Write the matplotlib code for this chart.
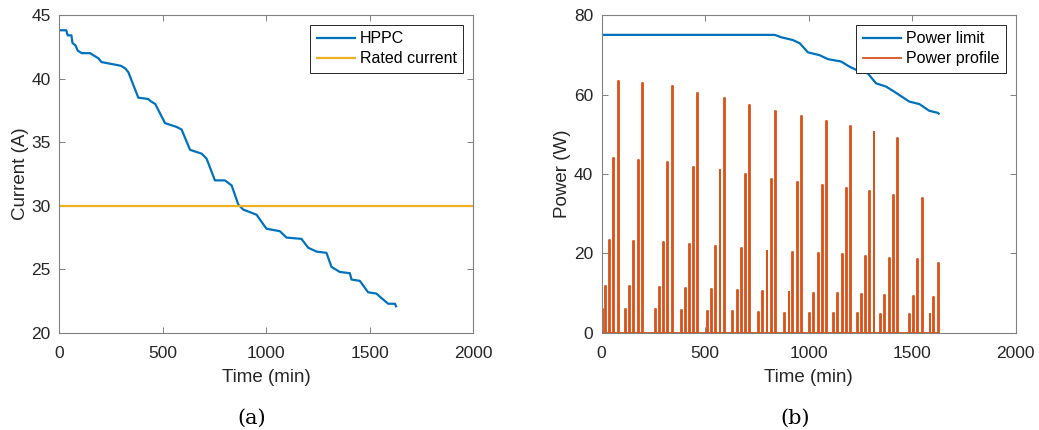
import numpy as np
import matplotlib.pyplot as plt

plt.rcParams['font.family'] = ['Liberation Sans', 'DejaVu Sans']

# (a) HPPC current limit vs time
hppc_t = [0, 35, 42, 60, 65, 80, 90, 110, 150, 170, 190, 205, 270, 300, 320, 335,
          383, 430, 445, 465, 512, 568, 592, 633, 689, 713, 753, 801, 834, 866,
          890, 954, 1002, 1067, 1099, 1171, 1204, 1244, 1292, 1316, 1356, 1405,
          1413, 1453, 1493, 1533, 1550, 1590, 1623, 1628]
hppc_i = [43.8, 43.8, 43.4, 43.4, 42.8, 42.6, 42.2, 42.0, 42.0, 41.8, 41.6, 41.3,
          41.1, 41.0, 40.8, 40.5, 38.5, 38.4, 38.2, 38.0, 36.5, 36.2, 36.0, 34.4,
          34.1, 33.7, 32.0, 32.0, 31.6, 30.1, 29.7, 29.3, 28.2, 28.0, 27.5, 27.4,
          26.7, 26.4, 26.3, 25.2, 24.8, 24.7, 24.2, 24.1, 23.2, 23.1, 22.85, 22.3,
          22.3, 22.1]
rated_current = 30

# (b) power limit and power profile
plim_t = [0, 836, 868, 924, 957, 997, 1053, 1093, 1157, 1198, 1238, 1286, 1326,
          1374, 1414, 1487, 1535, 1583, 1623, 1628]
plim_p = [75, 75, 74.4, 73.7, 72.9, 70.6, 69.9, 68.9, 68.3, 67.0, 66.0, 65.3, 62.8,
          62.0, 60.7, 58.2, 57.6, 55.9, 55.4, 55.2]

spike_t = [1, 17, 38, 57, 78,
           114, 134, 154, 175, 194,
           258, 278, 299, 318, 339,
           383, 403, 423, 443, 463,
           510, 529, 550, 570, 591,
           632, 653, 673, 693, 713,
           757, 776, 797, 817, 838,
           882, 903, 922, 944, 963,
           1002, 1023, 1044, 1064, 1085,
           1117, 1139, 1161, 1180, 1201,
           1233, 1254, 1273, 1294, 1314,
           1347, 1366, 1389, 1410, 1429,
           1484, 1506, 1525, 1547,
           1584, 1603, 1625]
spike_p = [6.0, 11.8, 23.4, 43.9, 63.4,
           6.0, 11.7, 23.1, 43.5, 62.8,
           6.0, 11.6, 22.9, 43.1, 62.2,
           5.8, 11.2, 22.3, 41.8, 60.5,
           5.6, 11.0, 21.9, 41.0, 59.2,
           5.5, 10.8, 21.3, 39.9, 57.4,
           5.3, 10.6, 20.7, 38.8, 55.8,
           5.1, 10.3, 20.4, 38.1, 54.7,
           5.1, 10.1, 20.0, 37.2, 53.4,
           5.1, 10.0, 19.8, 36.6, 52.1,
           5.0, 9.8, 19.4, 35.7, 50.6,
           4.9, 9.6, 18.9, 34.7, 49.0,
           4.8, 9.4, 18.6, 34.0,
           4.7, 9.1, 17.7]
profile_end = 1628

# build the pulse signal (zero between pulses)
pw = 4
prof_t = [0]
prof_p = [0]
for t, p in zip(spike_t, spike_p):
    prof_t += [t, t, t + pw, t + pw]
    prof_p += [0, p, p, 0]
prof_t.append(profile_end)
prof_p.append(0)

blue = '#0072BD'
orange = '#D95319'
yellow = '#EDB120'
txtcol = '#262626'
axcol = '#808080'

fig = plt.figure(figsize=(10.39, 4.30), dpi=100)
ax1 = fig.add_axes([0.0568, 0.2256, 0.3985, 0.7395])
ax2 = fig.add_axes([0.579, 0.2256, 0.3985, 0.7395])

ax1.plot(hppc_t, hppc_i, color=blue, lw=1.6, label='HPPC')
ax1.axhline(rated_current, color=yellow, lw=1.6, label='Rated current')
ax1.set_xlim(0, 2000)
ax1.set_ylim(20, 45)
ax1.set_yticks([20, 25, 30, 35, 40, 45])
ax1.set_xlabel('Time (min)', fontsize=13.5, labelpad=5.5)
ax1.set_ylabel('Current (A)', fontsize=13.5, labelpad=2)

ax2.plot(plim_t, plim_p, color=blue, lw=1.6, label='Power limit')
ax2.plot(prof_t, prof_p, color=orange, lw=1.3, label='Power profile')
ax2.set_xlim(0, 2000)
ax2.set_ylim(0, 80)
ax2.set_yticks([0, 20, 40, 60, 80])
ax2.set_xlabel('Time (min)', fontsize=13.5, labelpad=5.5)
ax2.set_ylabel('Power (W)', fontsize=13.5, labelpad=2)

for ax in (ax1, ax2):
    ax.set_xticks([0, 500, 1000, 1500, 2000])
    ax.tick_params(direction='in', top=True, right=True, labelsize=12.5,
                   color=axcol, labelcolor=txtcol, length=4, width=0.7)
    ax.tick_params(axis='x', pad=9.5)
    ax.tick_params(axis='y', pad=6)
    for s in ax.spines.values():
        s.set_color(axcol)
        s.set_linewidth(0.8)
    ax.xaxis.label.set_color(txtcol)
    ax.yaxis.label.set_color(txtcol)
    leg = ax.legend(loc='upper right', bbox_to_anchor=(1 - 10 / 414, 1 - 10 / 318),
                    borderaxespad=0, fontsize=11.5, fancybox=False, framealpha=1,
                    edgecolor=txtcol, handlelength=2.4, handletextpad=0.3,
                    borderpad=0.4, labelspacing=0.3)
    leg.get_frame().set_linewidth(0.7)

fig.text(0.2425, 0.014, '(a)', family='DejaVu Serif', fontsize=15, ha='center')
fig.text(0.765, 0.014, '(b)', family='DejaVu Serif', fontsize=15, ha='center')

fig.savefig('out.png', dpi=100)
